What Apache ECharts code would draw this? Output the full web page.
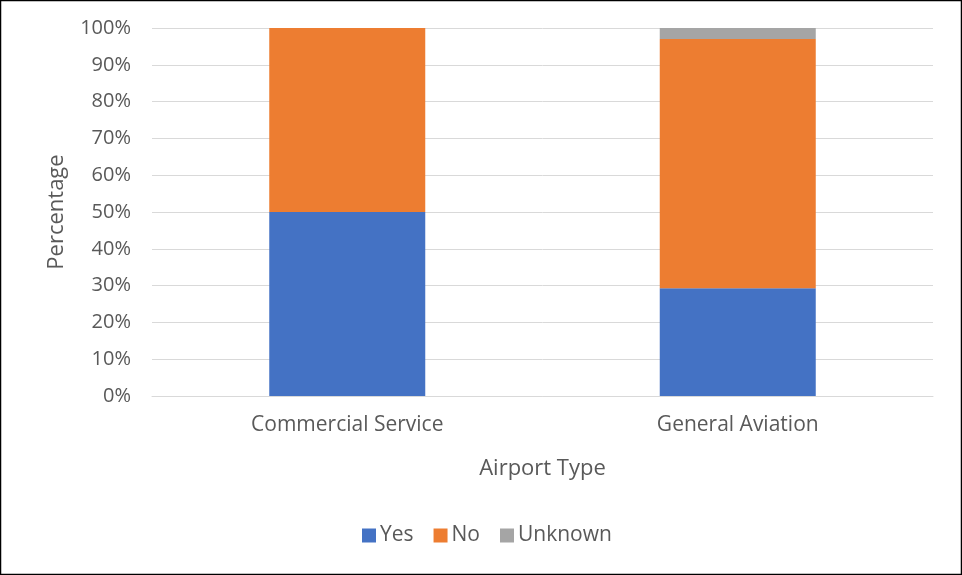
<!DOCTYPE html>
<html>
<head>
<meta charset="utf-8">
<script src="https://cdn.jsdelivr.net/npm/echarts@6/dist/echarts.min.js"></script>
<style>
  html, body { margin: 0; padding: 0; background: #fff; }
  #chart { width: 962px; height: 575px; }
</style>
</head>
<body>
<div id="chart"></div>
<script>
const categories = ['Commercial Service', 'General Aviation']
const yesValues = [50, 29.3]
const noValues = [50, 67.7]
const unknownValues = [0, 3.0]

const textColor = '#595959'
const fontFamily = '"Open Sans", "Noto Sans", sans-serif'

const barSeries = (name, data, color) => ({
  name: name,
  type: 'bar',
  stack: 'total',
  data: data,
  barWidth: 156,
  itemStyle: { color: color },
  emphasis: { disabled: true }
})

var myChart = echarts.init(document.getElementById('chart'), null, { renderer: 'canvas' })
var option = {
  animation: false,
  textStyle: { fontFamily: fontFamily },
  graphic: [{
    type: 'rect',
    shape: { x: 0.5, y: 0.5, width: 961, height: 574 },
    style: { fill: 'none', stroke: '#000', lineWidth: 1.5 },
    silent: true
  }],
  legend: {
    bottom: 24,
    left: 357,
    itemWidth: 14,
    itemHeight: 14,
    itemGap: 20,
    icon: 'rect',
    textStyle: { color: textColor, fontSize: 21, fontFamily: fontFamily, padding: [0, 0, 0, -1] },
    data: ['Yes', 'No', 'Unknown']
  },
  grid: { left: 152, right: 29, top: 28, bottom: 179 },
  xAxis: {
    type: 'category',
    data: categories,
    name: 'Airport Type',
    nameLocation: 'middle',
    nameGap: 62,
    nameTextStyle: { color: textColor, fontSize: 22, fontFamily: fontFamily },
    axisLine: { show: true, lineStyle: { color: '#d9d9d9', width: 1 } },
    axisTick: { show: false },
    axisLabel: { color: textColor, fontSize: 21, margin: 19, fontFamily: fontFamily }
  },
  yAxis: {
    type: 'value',
    min: 0,
    max: 100,
    interval: 10,
    name: 'Percentage',
    nameLocation: 'middle',
    nameGap: 84,
    nameTextStyle: { color: textColor, fontSize: 22, fontFamily: fontFamily },
    axisLine: { show: false },
    axisTick: { show: false },
    splitLine: { show: true, lineStyle: { color: '#d9d9d9', width: 1 } },
    axisLabel: { color: textColor, fontSize: 20, margin: 21, formatter: '{value}%', fontFamily: fontFamily }
  },
  series: [
    barSeries('Yes', yesValues, '#4472c4'),
    barSeries('No', noValues, '#ed7d31'),
    barSeries('Unknown', unknownValues, '#a5a5a5')
  ]
}
myChart.setOption(option, true)
</script>
</body>
</html>
